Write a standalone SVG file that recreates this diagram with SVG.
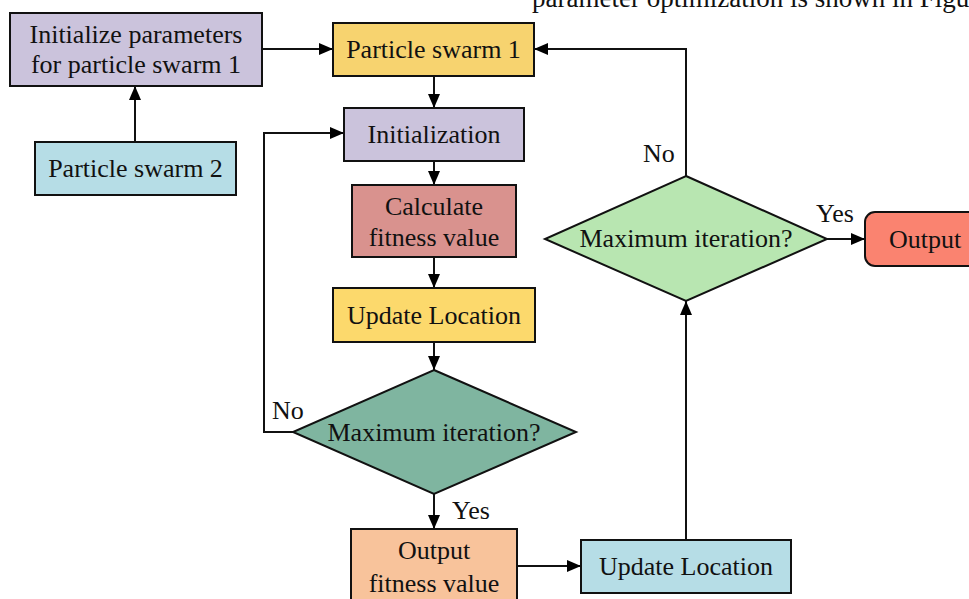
<svg xmlns="http://www.w3.org/2000/svg" width="969" height="599" viewBox="0 0 969 599">
<defs>
<marker id="ah" markerWidth="14" markerHeight="12" refX="14" refY="6" orient="auto" markerUnits="userSpaceOnUse">
<path d="M0,0 L14,6 L0,12 z" fill="#000"/>
</marker>
<style>
text{font-family:"Liberation Serif","Times New Roman",serif;font-size:26px;fill:#111;}
.c{text-anchor:middle;}
.n{stroke:#111;stroke-width:2;}
.e{fill:none;stroke:#111;stroke-width:2;marker-end:url(#ah);}
</style>
</defs>
<rect width="969" height="599" fill="#fff"/>
<text x="532" y="7" style="font-size:27px">parameter optimization is shown in Figure</text>

<g id="connectors">
<line class="e" x1="262" y1="49" x2="333" y2="49"/>
<line class="e" x1="135" y1="142" x2="135" y2="86"/>
<line class="e" x1="434" y1="76" x2="434" y2="108"/>
<line class="e" x1="434" y1="161" x2="434" y2="185"/>
<line class="e" x1="434" y1="257" x2="434" y2="288"/>
<line class="e" x1="434" y1="342" x2="434" y2="370"/>
<polyline class="e" points="293,432 264,432 264,133 344,133"/>
<line class="e" x1="434" y1="494" x2="434" y2="529"/>
<line class="e" x1="517" y1="566" x2="581" y2="566"/>
<line class="e" x1="686" y1="540" x2="686" y2="301"/>
<polyline class="e" points="686,176 686,49 534,49"/>
<line class="e" x1="827" y1="239" x2="865" y2="239"/>
<text x="272" y="419">No</text>
<text x="452" y="519">Yes</text>
<text x="643" y="162">No</text>
<text x="816" y="222">Yes</text>
</g>

<g id="init-params">
<rect class="n" x="10" y="13" width="252" height="73" fill="#CBC3DC"/>
<text class="c" x="136" y="43">Initialize parameters</text>
<text class="c" x="136" y="73">for particle swarm 1</text>
</g>
<g id="swarm2">
<rect class="n" x="35" y="142" width="201" height="53" fill="#B6DDE6"/>
<text class="c" x="135.5" y="177">Particle swarm 2</text>
</g>
<g id="swarm1">
<rect class="n" x="333" y="23" width="201" height="53" fill="#F7D36F"/>
<text class="c" x="433.5" y="58">Particle swarm 1</text>
</g>
<g id="initialization">
<rect class="n" x="344" y="108" width="180" height="53" fill="#CBC3DC"/>
<text class="c" x="434" y="143">Initialization</text>
</g>
<g id="calc-fitness">
<rect class="n" x="352" y="185" width="164" height="72" fill="#D9928E"/>
<text class="c" x="434" y="215">Calculate</text>
<text class="c" x="434" y="246">fitness value</text>
</g>
<g id="update1">
<rect class="n" x="333" y="288" width="202" height="54" fill="#FCD96C"/>
<text class="c" x="434" y="324">Update Location</text>
</g>
<g id="decision1">
<polygon class="n" points="434,370 576,432 434,494 293,432" fill="#7FB5A0"/>
<text class="c" x="434" y="441">Maximum iteration?</text>
</g>
<g id="output-fitness">
<rect class="n" x="351" y="529" width="166" height="80" fill="#F8C39B"/>
<text class="c" x="434" y="559">Output</text>
<text class="c" x="434" y="592">fitness value</text>
</g>
<g id="update2">
<rect class="n" x="581" y="540" width="210" height="53" fill="#B6DDE6"/>
<text class="c" x="686" y="575">Update Location</text>
</g>
<g id="decision2">
<polygon class="n" points="686,176 827,239 686,301 545,239" fill="#B8E6B1"/>
<text class="c" x="686" y="247">Maximum iteration?</text>
</g>
<g id="output">
<rect class="n" x="865" y="212" width="120" height="54" rx="10" fill="#FA8370"/>
<text class="c" x="925" y="248">Output</text>
</g>
</svg>
